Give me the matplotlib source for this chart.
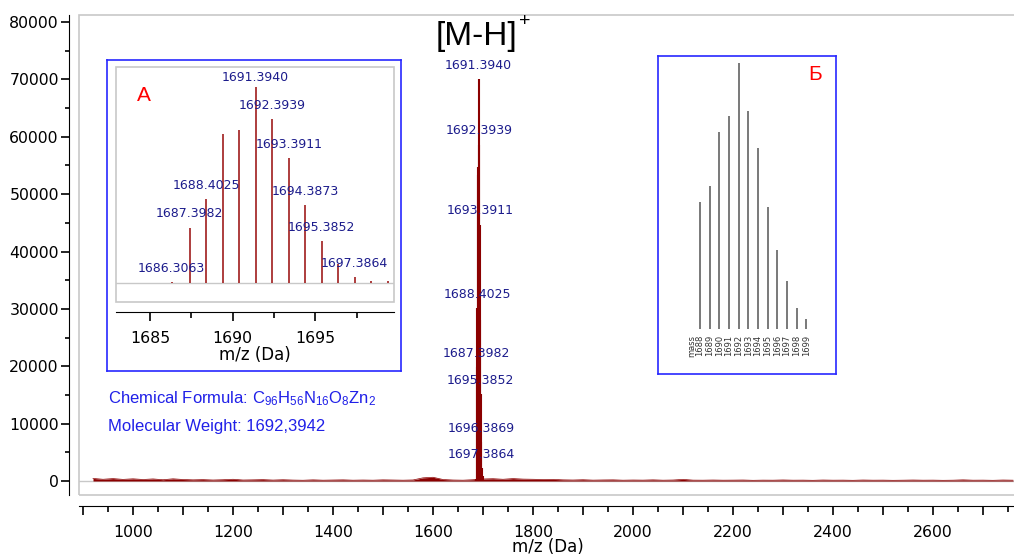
import numpy as np
import matplotlib
matplotlib.use('Agg')
import matplotlib.pyplot as plt
from matplotlib.patches import Rectangle
from matplotlib.ticker import MultipleLocator

plt.rcParams['font.family'] = ['DejaVu Sans']
plt.rcParams['mathtext.default'] = 'regular'

# isotope cluster of [M-H]+ (measured)
peak_mz = [1686.3063, 1687.3982, 1688.4025, 1689.3990, 1690.3960, 1691.3940, 1692.3939,
           1693.3911, 1694.3873, 1695.3852, 1696.3869, 1697.3864, 1698.3850, 1699.3850]
peak_int = [400, 19800, 30100, 53300, 54700, 70000, 58600,
            44700, 28000, 15100, 6800, 2200, 800, 800]

main_labels = ['1691.3940', '1692.3939', '1693.3911', '1688.4025', '1687.3982',
               '1695.3852', '1696.3869', '1697.3864']
inset_labels = ['1686.3063', '1687.3982', '1688.4025', '1691.3940', '1692.3939',
                '1693.3911', '1694.3873', '1695.3852', '1697.3864']

# baseline noise, every 20 Da from 920 to 2760
noise_mz = np.arange(920, 2761, 20)
noise_int = [450, 300, 420, 280, 380, 260, 360, 220, 380, 260,
             200, 240, 170, 220, 300, 170, 200, 240, 160, 220,
             160, 130, 200, 140, 170, 200, 140, 170, 140, 200, 170, 140, 180,
             550, 650, 260, 170, 140, 220,
             350, 400, 300, 420, 330, 300, 260, 280,
             200, 170, 220, 150, 180, 200, 140, 170, 150, 200, 140, 170, 280, 150,
             140, 170, 140, 150, 170, 120, 150, 140, 180, 140, 150, 120, 170, 140,
             150, 120, 170, 140, 150, 120, 140, 170, 140, 150, 120, 140, 200, 140,
             150, 120, 170, 140]

# theoretical isotope distribution (inset Б)
iso_mass = [1688, 1689, 1690, 1691, 1692, 1693, 1694, 1695, 1696, 1697, 1698, 1699]
iso_pct = [47.9, 53.9, 74.0, 80.1, 100, 82.1, 68.0, 45.9, 29.9, 18.0, 7.9, 3.9]

W, H = 1014, 557
def box(l, t, r, b):
    return [l / W, 1 - b / H, (r - l) / W, (b - t) / H]

red = '#8b0000'
navy = '#1c1c8c'
frame = '#c8c8c8'
blue_box = '#2828ff'
mz_text = [f'{m:.4f}' for m in peak_mz]

fig = plt.figure(figsize=(W / 100, H / 100), dpi=100)
fig.set_facecolor('white')

#%% main spectrum
ax = fig.add_axes(box(79, 15, 1016, 495))
ax.set_xlim(892, 2766)
ax.set_ylim(-2440, 81220)
ax.spines['top'].set_visible(False)
ax.spines['right'].set_visible(False)
ax.spines['left'].set_position(('outward', 7))
ax.spines['bottom'].set_position(('outward', 8))
ax.add_patch(Rectangle((0, 0), 1, 1, transform=ax.transAxes, fill=False,
                       ec=frame, lw=1.2, clip_on=False))
ax.axhline(0, color=frame, lw=1, zorder=1)

ax.fill_between(noise_mz, 0, noise_int, color=red, lw=0, zorder=2)
ax.plot(noise_mz, noise_int, color=red, lw=0.5, zorder=2)
ax.vlines(peak_mz, 0, peak_int, color=red, lw=1.5, zorder=3)

for lab in main_labels:
    i = mz_text.index(lab)
    ax.annotate(lab, (peak_mz[i], peak_int[i]), xytext=(0, 10), textcoords='offset points',
                ha='center', va='center', fontsize=9, color=navy)

ax.set_yticks(range(0, 80001, 10000))
ax.yaxis.set_minor_locator(MultipleLocator(5000))
xt = np.arange(900, 2800, 100)
ax.set_xticks(xt)
ax.set_xticklabels([str(v) if v % 200 == 0 else '' for v in xt])
ax.xaxis.set_minor_locator(MultipleLocator(50))
ax.tick_params(axis='y', which='major', length=6, width=1.2, pad=1.5, labelsize=11.3)
ax.tick_params(axis='y', which='minor', length=2.7, width=1.2)
ax.tick_params(axis='x', which='major', length=6.5, width=1.2, pad=7, labelsize=11.3)
ax.tick_params(axis='x', which='minor', length=4, width=1.2)
ax.set_xlabel('m/z (Da)', fontsize=12, labelpad=-1)

fig.text(476 / W, 1 - 37 / H, '[M-H]', fontsize=24, family='Liberation Sans',
         ha='center', va='center')
fig.text(525 / W, 1 - 22 / H, '+', fontsize=14, family='Liberation Sans',
         ha='center', va='center')

fig.text(108 / W, 1 - 399 / H, 'Chemical Formula: C$_{96}$H$_{56}$N$_{16}$O$_{8}$Zn$_{2}$',
         fontsize=12, family='Liberation Sans', color='#2020e8', ha='left', va='center')
fig.text(108 / W, 1 - 427 / H, 'Molecular Weight: 1692,3942',
         fontsize=12, family='Liberation Sans', color='#2020e8', ha='left', va='center')

#%% inset A
box_a = fig.add_axes(box(107, 60, 401, 371))
box_a.set_xticks([])
box_a.set_yticks([])
for s in box_a.spines.values():
    s.set_color(blue_box)
    s.set_linewidth(1.2)

axa = fig.add_axes(box(116, 67, 394, 302))
axa.set_xlim(1682.94, 1699.76)
axa.set_ylim(-6680, 77250)
axa.spines['top'].set_visible(False)
axa.spines['right'].set_visible(False)
axa.spines['left'].set_visible(False)
axa.spines['bottom'].set_position(('outward', 7))
axa.add_patch(Rectangle((0, 0), 1, 1, transform=axa.transAxes, fill=False,
                        ec=frame, lw=1.2, clip_on=False))
axa.axhline(0, color=frame, lw=1, zorder=1)
axa.vlines(peak_mz, 0, peak_int, color='#a01c1c', lw=1.2, zorder=3)
for lab in inset_labels:
    i = mz_text.index(lab)
    off = 7 if lab == '1691.3940' else 10
    axa.annotate(lab, (peak_mz[i], peak_int[i]), xytext=(0, off), textcoords='offset points',
                 ha='center', va='center', fontsize=9, color=navy)
axa.set_yticks([])
axa.set_xticks([1685, 1690, 1695])
axa.xaxis.set_minor_locator(MultipleLocator(2.5))
axa.tick_params(axis='x', which='major', length=6.7, width=1.2, pad=7.5, labelsize=11.3)
axa.tick_params(axis='x', which='minor', length=4.3, width=1.2)
axa.set_xlabel('m/z (Da)', fontsize=12, labelpad=0)
axa.text(0.1, 0.88, 'А', transform=axa.transAxes, fontsize=15, color='red',
         family='Liberation Sans', ha='center', va='center')

#%% inset Б
axb = fig.add_axes(box(658, 56, 836, 374))
axb.set_xlim(1683.66, 1702.07)
axb.set_ylim(-16.94, 102.75)
axb.set_xticks([])
axb.set_yticks([])
for s in axb.spines.values():
    s.set_color(blue_box)
    s.set_linewidth(1.2)
axb.vlines(iso_mass, 0, iso_pct, color='#6e6e6e', lw=1.3)
for m in iso_mass:
    axb.text(m, -2.3, str(m), rotation=90, ha='center', va='top', fontsize=6, color='#333333')
axb.text(1687.14, -2.3, 'mass', rotation=90, ha='center', va='top', fontsize=6, color='#333333')
axb.text(815 / W, 1 - 75 / H, 'Б', transform=fig.transFigure, fontsize=15, color='red',
         family='Liberation Sans', ha='center', va='center')

fig.savefig('out.png', dpi=100)
